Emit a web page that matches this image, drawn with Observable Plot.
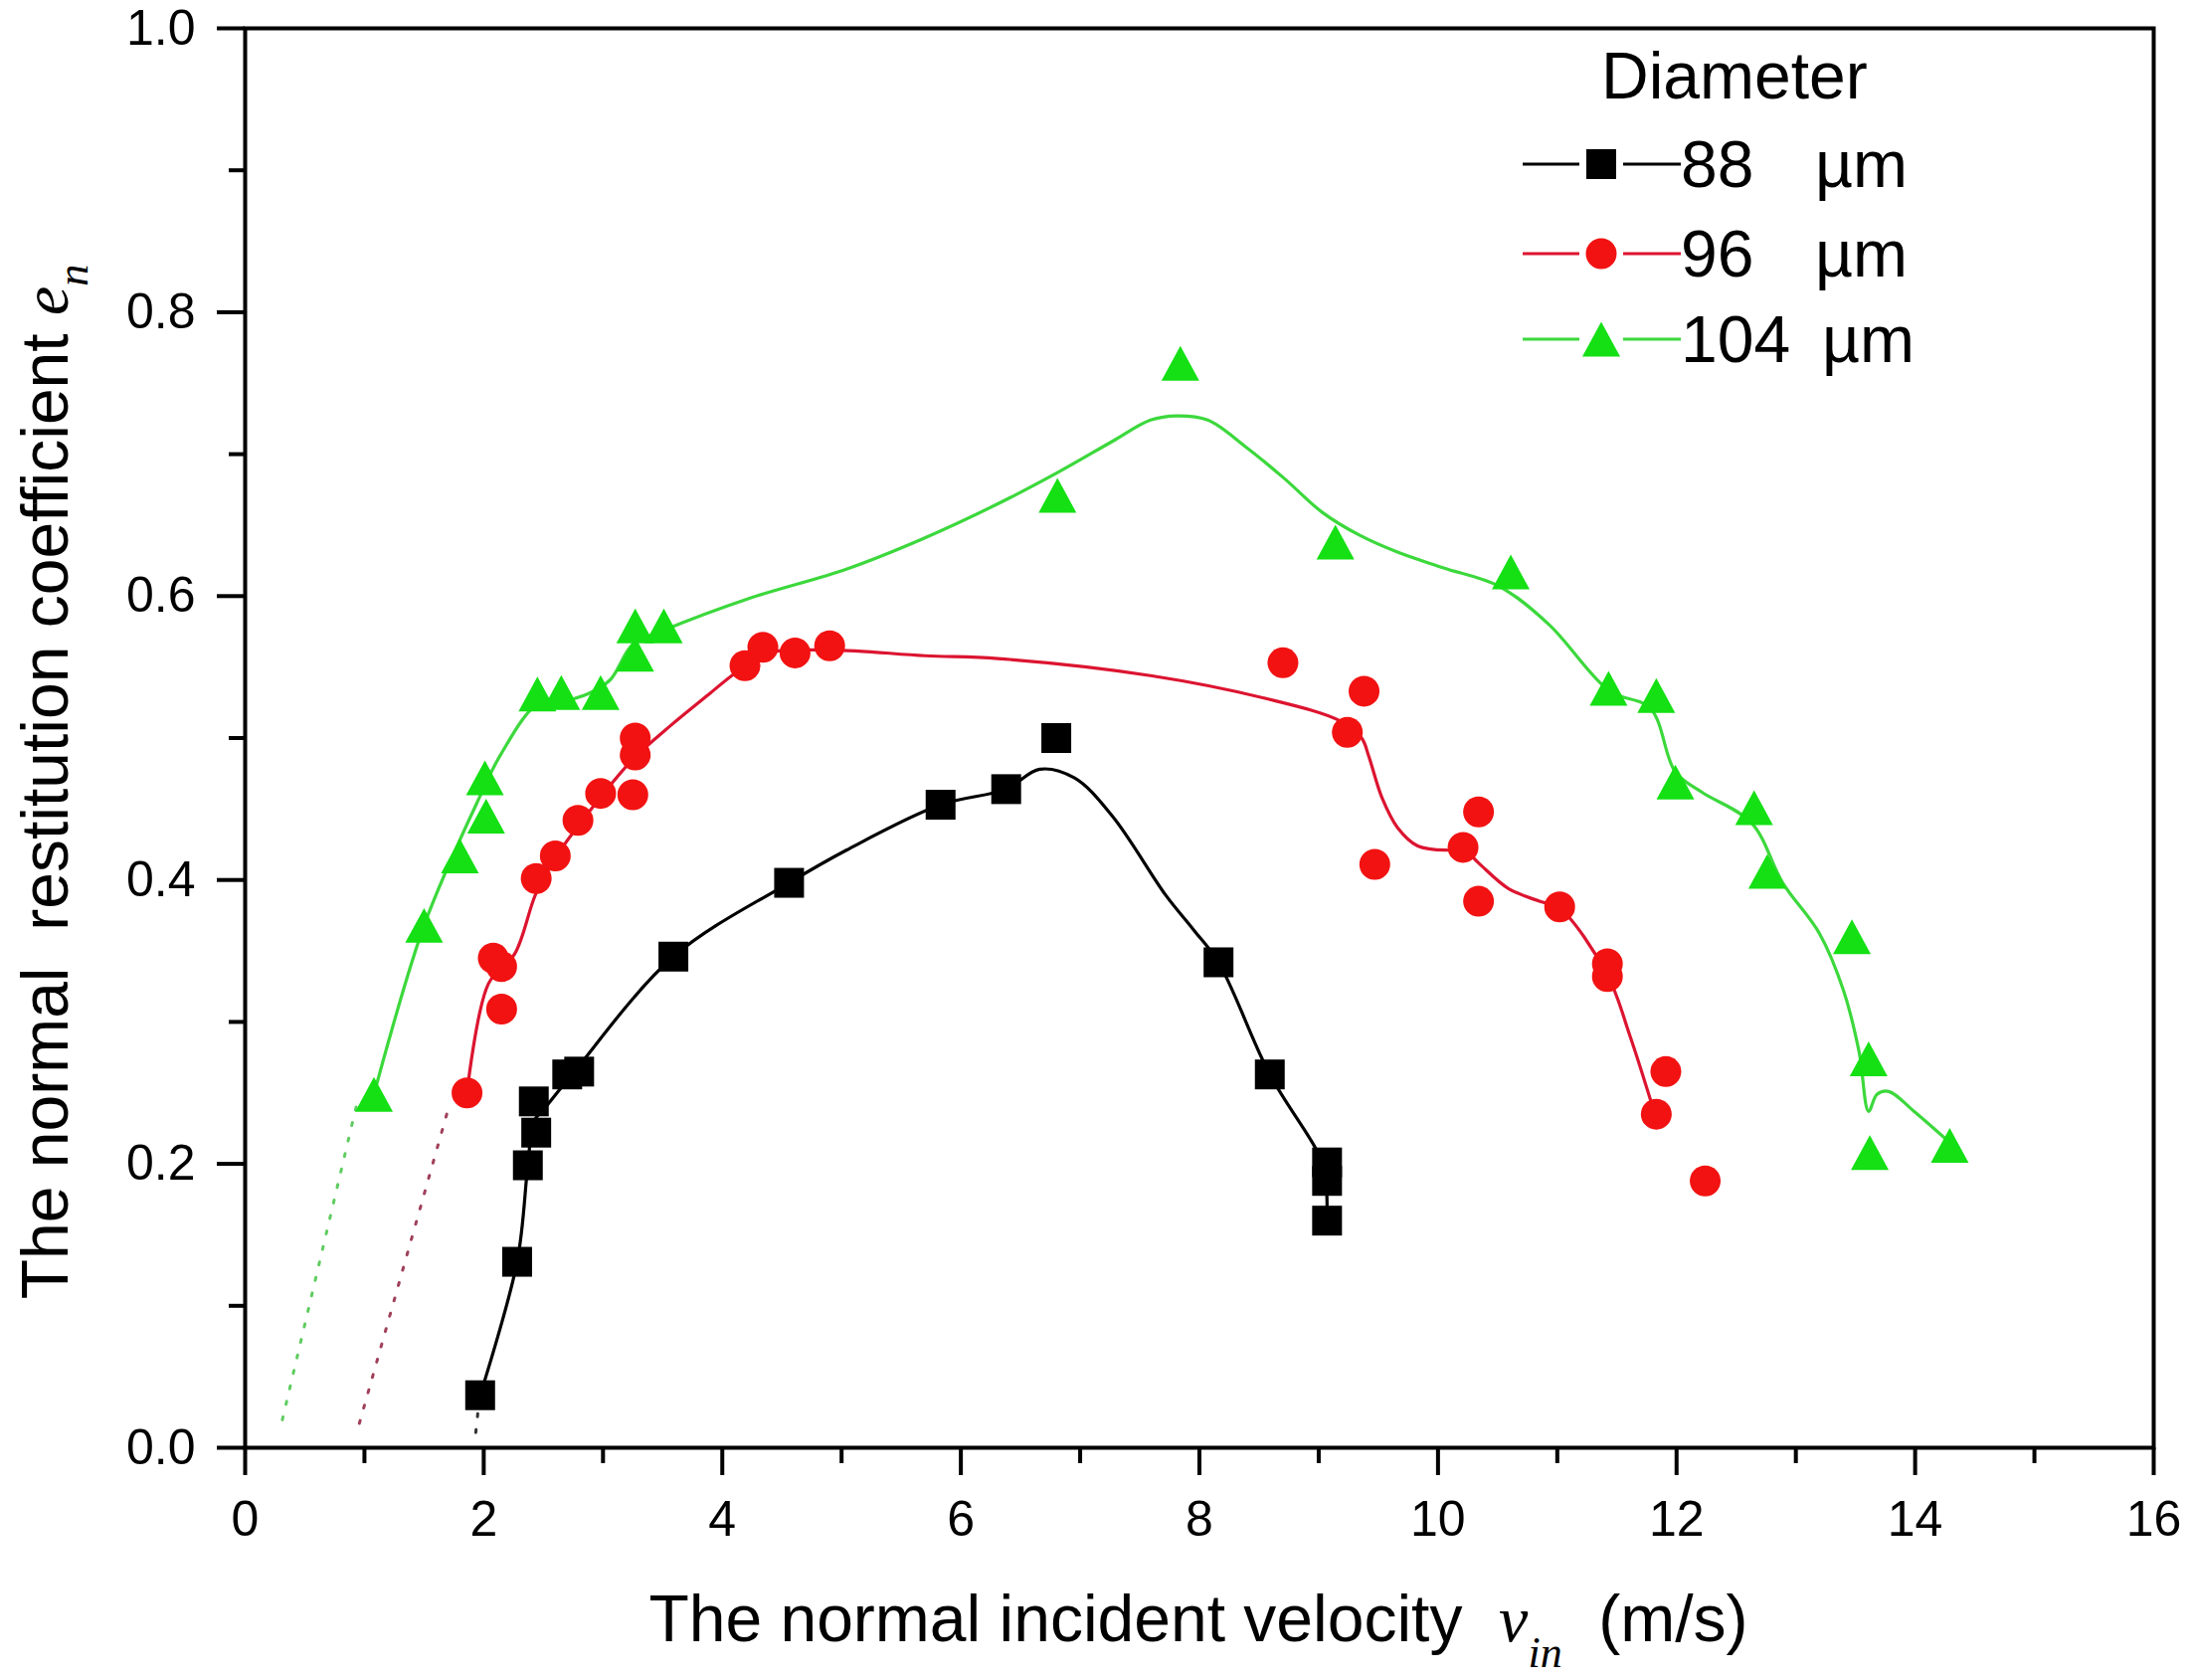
<!DOCTYPE html>
<html>
<head>
<meta charset="utf-8">
<script src="https://cdn.jsdelivr.net/npm/d3@7"></script>
<script src="https://cdn.jsdelivr.net/npm/@observablehq/plot@0.6"></script>
<style>
  html, body { margin: 0; padding: 0; background: #fff; overflow: hidden; }
  #chart svg { display: block; }
</style>
</head>
<body>
<div id="chart"></div>
<script>
const V88 = [1.97, 2.28, 2.37, 2.44, 2.42, 2.70, 2.80, 3.59, 4.56, 5.83, 6.38, 6.80, 8.16, 8.59, 9.07, 9.07, 9.07];
const E88 = [0.037, 0.131, 0.199, 0.222, 0.244, 0.263, 0.265, 0.346, 0.398, 0.453, 0.464, 0.500, 0.342, 0.263, 0.201, 0.188, 0.160];

const V96 = [1.86, 2.15, 2.08, 2.15, 2.44, 2.60, 2.79, 2.98, 3.25, 3.27, 3.27, 4.19, 4.34, 4.61, 4.90,
  8.70, 9.38, 9.24, 9.47, 10.34, 10.21, 10.34, 11.02, 11.42, 11.42, 11.91, 11.83, 12.24];
const E96 = [0.250, 0.309, 0.345, 0.339, 0.401, 0.417, 0.442, 0.461, 0.460, 0.488, 0.500, 0.551, 0.564, 0.560, 0.565,
  0.553, 0.533, 0.504, 0.411, 0.448, 0.423, 0.385, 0.381, 0.341, 0.332, 0.265, 0.235, 0.188];

const V104 = [1.08, 1.50, 1.80, 2.02, 2.01, 2.45, 2.65, 2.98, 3.27, 3.27, 3.51, 6.81, 7.84, 9.14,
  10.61, 11.43, 11.83, 11.99, 12.65, 12.76, 13.47, 13.61, 13.62, 14.29];
const E104 = [0.249, 0.368, 0.417, 0.445, 0.472, 0.531, 0.532, 0.532, 0.559, 0.579, 0.579, 0.671, 0.764, 0.638,
  0.617, 0.535, 0.530, 0.469, 0.451, 0.406, 0.360, 0.274, 0.208, 0.213];

// Smoothed curves
const CV88 = [1.97, 2.28, 2.37, 2.42, 2.50, 2.75, 3.59, 4.56, 5.04, 5.83, 6.38, 6.66, 6.95, 7.27, 7.72, 7.95, 8.16, 8.59, 8.98, 9.05, 9.07];
const CE88 = [0.037, 0.131, 0.199, 0.230, 0.238, 0.264, 0.346, 0.398, 0.421, 0.453, 0.464, 0.478, 0.472, 0.445, 0.389, 0.365, 0.342, 0.263, 0.210, 0.195, 0.165];

const CV96 = [1.86, 2.04, 2.26, 2.44, 2.62, 2.93, 3.25, 3.57, 3.89, 4.08, 4.34, 4.91, 5.70, 6.31, 7.59, 8.55, 9.18, 9.36,
  9.42, 9.53, 9.66, 9.83, 10.08, 10.21, 10.34, 10.59, 10.85, 11.02, 11.42, 11.61, 11.80];
const CE96 = [0.250, 0.327, 0.348, 0.391, 0.418, 0.453, 0.485, 0.509, 0.531, 0.544, 0.559, 0.562, 0.558, 0.556, 0.544, 0.528, 0.512, 0.500,
  0.487, 0.458, 0.437, 0.424, 0.421, 0.422, 0.412, 0.394, 0.385, 0.380, 0.333, 0.290, 0.240];

const CV104 = [1.08, 1.50, 1.98, 2.14, 2.44, 2.62, 2.87, 3.06, 3.25, 3.51, 4.21, 5.04, 5.67, 6.31, 6.81, 7.27, 7.59, 7.81, 8.07,
  8.39, 8.71, 9.03, 9.34, 9.66, 10.04, 10.51, 10.93, 11.44, 11.78, 11.99, 12.21, 12.63, 12.89, 13.20, 13.40, 13.53, 13.61,
  13.68, 13.78, 13.99, 14.29];
const CE104 = [0.249, 0.368, 0.461, 0.488, 0.523, 0.525, 0.531, 0.541, 0.566, 0.576, 0.598, 0.619, 0.640, 0.665, 0.687, 0.709, 0.724, 0.727, 0.724,
  0.705, 0.683, 0.659, 0.643, 0.631, 0.620, 0.607, 0.580, 0.533, 0.521, 0.476, 0.462, 0.440, 0.398, 0.362, 0.322, 0.279, 0.237,
  0.249, 0.251, 0.237, 0.215];

// dotted extrapolations towards e_n = 0
const DV88 = [1.95, 1.93], DE88 = [0.024, 0.008];
const DV96 = [1.69, 0.94], DE96 = [0.235, 0.012];
const DV104 = [0.93, 0.29], DE104 = [0.240, 0.012];

const X_MAJOR = [0, 2, 4, 6, 8, 10, 12, 14, 16];
const X_MINOR = [1, 3, 5, 7, 9, 11, 13, 15];
const Y_MAJOR = [0, 0.2, 0.4, 0.6, 0.8, 1.0];
const Y_MINOR = [0.1, 0.3, 0.5, 0.7, 0.9];

const LEGEND_TITLE = "Diameter";
const LEGEND_LABELS = ["88", "96", "104"];
const UNIT = "\u00b5m";

const SANS = '"Liberation Sans", Arial, sans-serif';
const SERIF = '"Liberation Serif", "Times New Roman", serif';

const rows = (V, E) => V.map((v, i) => ({ v, e: E[i] }));

// marker shapes; r is the half size
const squareSym = { draw(ctx, size) { const r = Math.sqrt(size / Math.PI); ctx.rect(-r, -r, 2 * r, 2 * r); } };
const circleSym = { draw(ctx, size) { const r = Math.sqrt(size / Math.PI); ctx.moveTo(r, 0); ctx.arc(0, 0, r, 0, 2 * Math.PI); } };
const triSym = { draw(ctx, size) {
  const r = Math.sqrt(size / Math.PI);
  ctx.moveTo(0, -0.92 * r); ctx.lineTo(r, 0.92 * r); ctx.lineTo(-r, 0.92 * r); ctx.closePath();
} };

const series = [
  { pts: rows(V88, E88), crv: rows(CV88, CE88), dot: rows(DV88, DE88), fill: "#000000", line: "#000000", dotted: "#333333", sym: squareSym, r: 15 },
  { pts: rows(V96, E96), crv: rows(CV96, CE96), dot: rows(DV96, DE96), fill: "#f21212", line: "#dc1430", dotted: "#a0405a", sym: circleSym, r: 15.5 },
  { pts: rows(V104, E104), crv: rows(CV104, CE104), dot: rows(DV104, DE104), fill: "#14e014", line: "#3cd83c", dotted: "#60cc60", sym: triSym, r: 19 },
];

const marks = [];
for (const s of series) {
  marks.push(Plot.line(s.dot, { x: "v", y: "e", stroke: s.dotted, strokeWidth: 3, strokeDasharray: "3 13" }));
  marks.push(Plot.line(s.crv, { x: "v", y: "e", stroke: s.line, strokeWidth: 3.2, curve: "catmull-rom" }));
}
for (const s of series) {
  marks.push(Plot.dot(s.pts, { x: "v", y: "e", fill: s.fill, stroke: "none", symbol: s.sym, r: s.r }));
}

const plot = Plot.plot({
  width: 2204,
  height: 1689,
  marginLeft: 246,
  marginRight: 39,
  marginTop: 28,
  marginBottom: 234,
  x: { domain: [0, 16] },
  y: { domain: [0, 1] },
  style: { fontFamily: SANS, fontSize: "50px", color: "#000", background: "#fff" },
  marks: [
    ...marks,
    Plot.axisX({ ticks: X_MAJOR, tickSize: 28, tickPadding: 25, fontSize: 50, strokeWidth: 4, label: null, tickFormat: d => String(d) }),
    Plot.axisX({ ticks: X_MINOR, tickSize: 16, strokeWidth: 4, label: null, tickFormat: () => "" }),
    Plot.axisY({ ticks: Y_MAJOR, tickSize: 28, tickPadding: 22, fontSize: 50, strokeWidth: 4, label: null, tickFormat: d3.format(".1f") }),
    Plot.axisY({ ticks: Y_MINOR, tickSize: 16, strokeWidth: 4, label: null, tickFormat: () => "" }),
    Plot.frame({ stroke: "#000", strokeWidth: 4 }),
  ],
});

const svg = d3.select(plot);

// axis titles with italic symbols
const xl = svg.append("text")
  .attr("x", 1205).attr("y", 1650).attr("text-anchor", "middle")
  .style("font-family", SANS).style("font-size", "66px").style("white-space", "pre").attr("fill", "#000");
xl.append("tspan").text("The normal incident velocity  ");
xl.append("tspan").style("font-family", SERIF).style("font-style", "italic").text("v");
xl.append("tspan").attr("dy", 26).style("font-family", SERIF).style("font-style", "italic").style("font-size", "44px").text("in");
xl.append("tspan").attr("dy", -26).text("  (m/s)");

const yl = svg.append("text")
  .attr("transform", "translate(68,786) rotate(-90)").attr("text-anchor", "middle")
  .style("font-family", SANS).style("font-size", "66px").style("white-space", "pre").attr("fill", "#000");
yl.append("tspan").text("The normal  restitution coefficient ");
yl.append("tspan").style("font-family", SERIF).style("font-style", "italic").text("e");
yl.append("tspan").attr("dy", 20).style("font-family", SERIF).style("font-style", "italic").style("font-size", "44px").text("n");

// legend box in the upper right
const lg = svg.append("g").attr("text-anchor", "start")
  .style("font-family", SANS).style("font-size", "66px").attr("fill", "#000");
lg.append("text").attr("x", 1610).attr("y", 99).text(LEGEND_TITLE);
const rowY = [165, 255, 341];
LEGEND_LABELS.forEach((lab, i) => {
  const s = series[i];
  const y = rowY[i];
  lg.append("line").attr("x1", 1531).attr("x2", 1588).attr("y1", y).attr("y2", y).attr("stroke", s.line).attr("stroke-width", 3);
  lg.append("line").attr("x1", 1632).attr("x2", 1690).attr("y1", y).attr("y2", y).attr("stroke", s.line).attr("stroke-width", 3);
  lg.append("path").attr("d", d3.symbol(s.sym, s.r * s.r * Math.PI)()).attr("transform", `translate(1610,${y})`).attr("fill", s.fill);
  lg.append("text").attr("x", 1690).attr("y", y + 23).text(lab);
  lg.append("text").attr("x", i === 2 ? 1832 : 1825).attr("y", y + 23).text(UNIT);
});

document.getElementById("chart").append(plot);
</script>
</body>
</html>
